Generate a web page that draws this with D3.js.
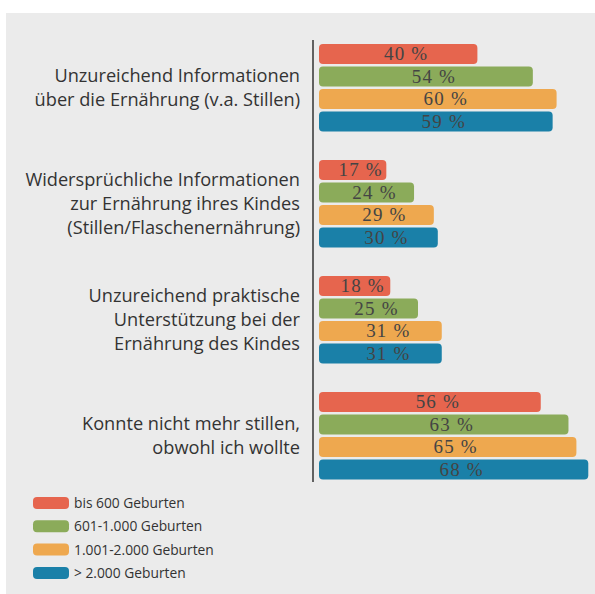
<!DOCTYPE html>
<html>
<head>
<meta charset="utf-8">
<script src="https://cdn.jsdelivr.net/npm/d3@7"></script>
<style>
  body { margin: 0; background: #fff; }
  svg { display: block; }
</style>
</head>
<body>
<svg></svg>
<script>
const size = {w: 595, h: 594};
const svg = d3.select('svg').attr('width', size.w).attr('height', size.h);

// data
const categories = [
  ['Unzureichend Informationen', 'über die Ernährung (v.a. Stillen)'],
  ['Widersprüchliche Informationen', 'zur Ernährung ihres Kindes', '(Stillen/Flaschenernährung)'],
  ['Unzureichend praktische', 'Unterstützung bei der', 'Ernährung des Kindes'],
  ['Konnte nicht mehr stillen,', 'obwohl ich wollte']
];
const seriesNames = ['bis 600 Geburten', '601-1.000 Geburten', '1.001-2.000 Geburten', '> 2.000 Geburten'];
const bis600 = [40, 17, 18, 56];
const bis1000 = [54, 24, 25, 63];
const bis2000 = [60, 29, 31, 65];
const ueber2000 = [59, 30, 31, 68];
const seriesValues = [bis600, bis1000, bis2000, ueber2000];
const colorPalette = ['#e6654e', '#8bab5a', '#eea84f', '#1a80a8'];

// panel background
svg.append('rect')
  .attr('x', 6).attr('y', 13)
  .attr('width', size.w - 6).attr('height', size.h - 13)
  .attr('fill', '#ebebeb');

const groupIdx = d3.range(categories.length);
const scaleY = d3.scaleBand()
  .domain(groupIdx)
  .range([44, 44 + 3 * 116 + 87.5])
  .paddingInner((116 - 87.5) / 116)
  .paddingOuter(0);

const scaleInner = d3.scaleBand()
  .domain(d3.range(seriesNames.length))
  .range([0, scaleY.bandwidth()])
  .paddingInner(2.5 / 22.5)
  .paddingOuter(0);

const scaleX = d3.scaleLinear().domain([0, 100]).range([319, 319 + 396]);
const colorScale = d3.scaleOrdinal().domain(d3.range(4)).range(colorPalette);

// flatten rows
const rows = [];
groupIdx.forEach(g => {
  seriesValues.forEach((vals, s) => rows.push({g, s, v: vals[g]}));
});

// bars
svg.append('g').selectAll('rect')
  .data(rows)
  .join('rect')
  .attr('x', scaleX(0))
  .attr('y', d => scaleY(d.g) + scaleInner(d.s))
  .attr('width', d => scaleX(d.v) - scaleX(0))
  .attr('height', scaleInner.bandwidth())
  .attr('rx', 4)
  .attr('fill', d => colorScale(d.s));

// value labels
svg.append('g').selectAll('text')
  .data(rows)
  .join('text')
  .attr('x', d => (scaleX(0) + scaleX(d.v)) / 2 + 8)
  .attr('y', d => scaleY(d.g) + scaleInner(d.s) + scaleInner.bandwidth() / 2 + 6)
  .attr('text-anchor', 'middle')
  .attr('font-family', 'Liberation Serif, serif')
  .attr('font-size', 19)
  .attr('letter-spacing', 1.2)
  .attr('fill', '#444')
  .text(d => `${d.v} %`);

// axis line
svg.append('line')
  .attr('x1', 313).attr('x2', 313)
  .attr('y1', 40).attr('y2', 482)
  .attr('stroke', '#333')
  .attr('stroke-width', 1.5);

// category labels
const lineH = 24;
const catG = svg.append('g');
categories.forEach((lines, g) => {
  const cy = scaleY(g) + scaleY.bandwidth() / 2;
  const top = cy - (lines.length - 1) * lineH / 2;
  catG.append('text')
    .attr('text-anchor', 'end')
    .attr('font-family', 'Open Sans, sans-serif')
    .attr('font-size', 18.2)
    .attr('fill', '#333')
    .selectAll('tspan')
    .data(lines)
    .join('tspan')
    .attr('x', 300)
    .attr('y', (d, i) => top + i * lineH + 6)
    .text(d => d);
});

// legend
const legend = svg.append('g').attr('transform', 'translate(33, 503)');
const legendStep = 23.3;
legend.selectAll('rect')
  .data(seriesNames)
  .join('rect')
  .attr('x', 0)
  .attr('y', (d, i) => i * legendStep - 6)
  .attr('width', 36)
  .attr('height', 12)
  .attr('rx', 4)
  .attr('fill', (d, i) => colorScale(i));
legend.selectAll('text')
  .data(seriesNames)
  .join('text')
  .attr('x', 41)
  .attr('y', (d, i) => i * legendStep + 5)
  .attr('font-family', 'Open Sans, sans-serif')
  .attr('font-size', 13.8)
  .attr('fill', '#333')
  .text(d => d);
</script>
</body>
</html>
